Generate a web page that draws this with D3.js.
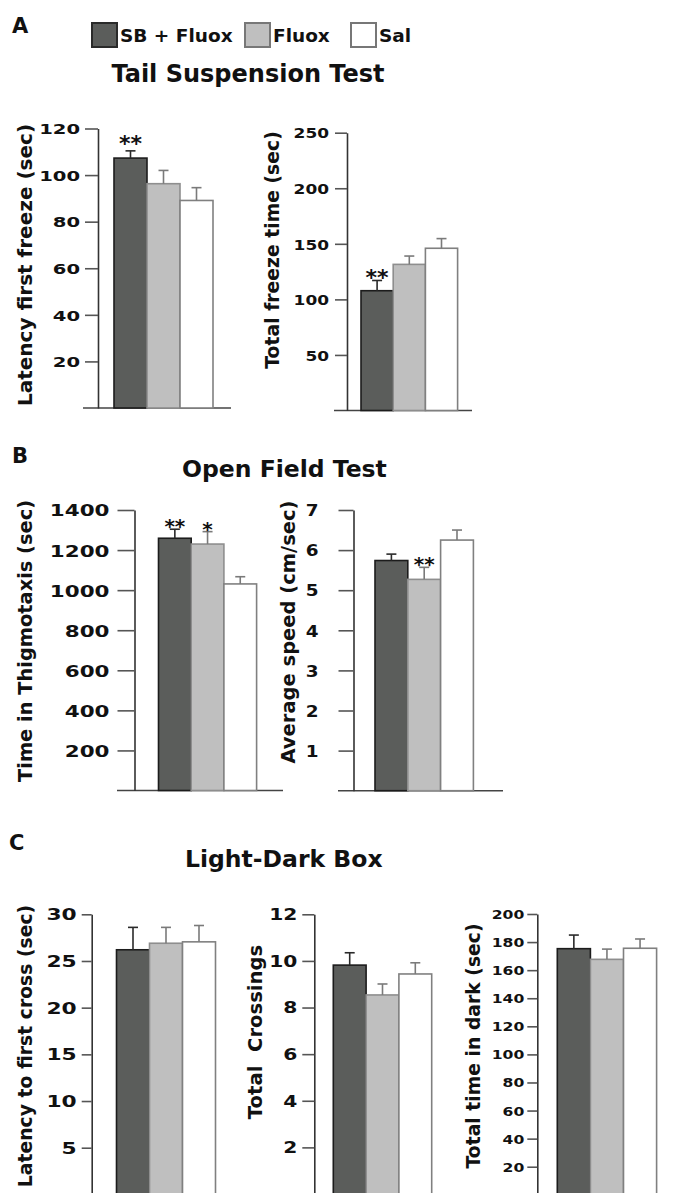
<!DOCTYPE html>
<html><head><meta charset="utf-8">
<script src="https://cdn.jsdelivr.net/npm/d3@7"></script>
<style>
html,body{margin:0;padding:0;background:#fff;}
svg{display:block;}
text{font-family:"DejaVu Sans",Verdana,sans-serif;font-weight:bold;fill:#111;}
</style></head>
<body>
<svg id="chart" width="675" height="1193"></svg>
<script>
// ---------- data ----------
const groups = ["SB + Fluox", "Fluox", "Sal"];

const tstLatency    = [107.3, 96.3, 89.1];
const tstLatencyErr = [3.1, 5.7, 5.5];
const tstLatencyStars = ["**", "", ""];
const tstLatencyTicks = [20, 40, 60, 80, 100, 120];

const tstFreeze    = [107.8, 131.5, 146.0];
const tstFreezeErr = [9.2, 7.5, 8.7];
const tstFreezeStars = ["**", "", ""];
const tstFreezeTicks = [50, 100, 150, 200, 250];

const ofThigmo    = [1259, 1230, 1031];
const ofThigmoErr = [45, 62, 36];
const ofThigmoStars = ["**", "*", ""];
const ofThigmoTicks = [200, 400, 600, 800, 1000, 1200, 1400];

const ofSpeed    = [5.74, 5.27, 6.25];
const ofSpeedErr = [0.16, 0.30, 0.25];
const ofSpeedStars = ["", "**", ""];
const ofSpeedTicks = [1, 2, 3, 4, 5, 6, 7];

const ldLatency    = [26.2, 26.9, 27.05];
const ldLatencyErr = [2.4, 1.7, 1.75];
const ldLatencyTicks = [5, 10, 15, 20, 25, 30];

const ldCross    = [9.82, 8.54, 9.44];
const ldCrossErr = [0.53, 0.47, 0.48];
const ldCrossTicks = [2, 4, 6, 8, 10, 12];

const ldDark    = [175.3, 167.7, 175.6];
const ldDarkErr = [9.7, 7.3, 6.6];
const ldDarkTicks = [20, 40, 60, 80, 100, 120, 140, 160, 180, 200];

// ---------- styles ----------
const fills   = ["#5b5d5b", "#bfbfbf", "#ffffff"];
const strokes = ["#1c1c1c", "#8e8e8e", "#808080"];
const errCol  = ["#2a2a2a", "#7a7a7a", "#7a7a7a"];

const svg = d3.select("#chart");

// ---------- headers ----------
svg.append("text").attr("x", 12).attr("y", 33).attr("font-size", 21).text("A");
svg.append("text").attr("x", 12).attr("y", 463).attr("font-size", 21).text("B");
svg.append("text").attr("x", 9).attr("y", 850).attr("font-size", 21).text("C");

svg.append("text").attr("x", 248).attr("y", 82).attr("text-anchor", "middle").attr("font-size", 24).text("Tail Suspension Test");
svg.append("text").attr("x", 182).attr("y", 477).attr("font-size", 23.5).text("Open Field Test");
svg.append("text").attr("x", 185).attr("y", 867).attr("font-size", 23.5).text("Light-Dark Box");

// legend
const legX = [92, 245, 351];
groups.forEach((g, i) => {
  svg.append("rect").attr("x", legX[i]).attr("y", 23).attr("width", 25).attr("height", 24)
    .attr("fill", fills[i]).attr("stroke", i === 0 ? "#2a2a2a" : "#777").attr("stroke-width", 2);
  svg.append("text").attr("x", legX[i] + 28).attr("y", 42).attr("font-size", 18.5).text(g);
});

// ---------- panel drawing ----------
function panel(o) {
  const g = svg.append("g");
  const x = d3.scaleBand().domain(groups).range([o.bx, o.bx + 3 * o.bw]).padding(0);
  const y = d3.scaleLinear().domain([0, o.max]).range([o.y0, o.yTop]);

  // baseline
  if (o.base) {
    g.append("line").attr("x1", o.base[0]).attr("x2", o.base[1])
      .attr("y1", o.y0).attr("y2", o.y0).attr("stroke", "#444").attr("stroke-width", 1.6);
  }
  // axis
  const ax = g.append("g").attr("transform", `translate(${o.ax},0)`)
    .call(d3.axisLeft(y).tickValues(o.ticks).tickFormat(d => String(d))
      .tickSize(o.tl).tickSizeOuter(0).tickPadding(o.tp));
  ax.select(".domain").attr("stroke", "#333").attr("stroke-width", 1.6);
  ax.selectAll(".tick line").attr("stroke", "#555").attr("stroke-width", 1.6);
  ax.selectAll(".tick text").attr("font-size", o.tf).attr("fill", "#111")
    .attr("font-family", "'DejaVu Sans',sans-serif").attr("font-weight", "bold")
    .attr("dy", "0.36em")
    .each(function() {
      const t = d3.select(this);
      const tx = +t.attr("x");
      t.attr("x", tx / o.sx).attr("transform", `scale(${o.sx},1)`);
    });

  // bars
  g.selectAll(".bar").data(o.values).join("rect")
    .attr("x", (d, i) => x(groups[i]))
    .attr("y", d => y(d))
    .attr("width", x.bandwidth())
    .attr("height", d => y(0) - y(d))
    .attr("fill", (d, i) => fills[i])
    .attr("stroke", (d, i) => strokes[i])
    .attr("stroke-width", 1.6);

  // error bars
  o.values.forEach((v, i) => {
    const cx = x(groups[i]) + x.bandwidth() / 2;
    g.append("line").attr("x1", cx).attr("x2", cx).attr("y1", y(v)).attr("y2", y(v + o.err[i]))
      .attr("stroke", errCol[i]).attr("stroke-width", 1.6);
    g.append("line").attr("x1", cx - 5).attr("x2", cx + 5).attr("y1", y(v + o.err[i])).attr("y2", y(v + o.err[i]))
      .attr("stroke", errCol[i]).attr("stroke-width", 1.6);
    if (o.stars && o.stars[i]) {
      g.append("text").attr("x", cx).attr("y", y(v + o.err[i]) + o.sdy)
        .attr("text-anchor", "middle").attr("font-size", o.sf).attr("fill", "#222").text(o.stars[i]);
    }
  });

  // y label
  g.append("text").attr("transform", `translate(${o.lx},${o.ly}) rotate(-90)`)
    .attr("text-anchor", "middle").attr("font-size", o.lf).style("white-space", "pre").text(o.label);
}

panel({values: tstLatency, err: tstLatencyErr, stars: tstLatencyStars, ticks: tstLatencyTicks, max: 120,
  ax: 98, y0: 408, yTop: 128.5, bx: 114, bw: 33, tl: 13, tp: 5, tf: 14.5, sx: 1.35,
  base: [83, 231], sf: 22, sdy: 0, label: "Latency first freeze (sec)", lx: 32, ly: 265, lf: 20});

panel({values: tstFreeze, err: tstFreezeErr, stars: tstFreezeStars, ticks: tstFreezeTicks, max: 250,
  ax: 347, y0: 410.5, yTop: 132.7, bx: 361, bw: 32.2, tl: 12, tp: 6, tf: 14.5, sx: 1.17,
  base: [334, 472], sf: 22, sdy: 5, label: "Total freeze time (sec)", lx: 279, ly: 250, lf: 18.8});

panel({values: ofThigmo, err: ofThigmoErr, stars: ofThigmoStars, ticks: ofThigmoTicks, max: 1400,
  ax: 134.5, y0: 790.5, yTop: 510, bx: 158.5, bw: 32.7, tl: 17, tp: 8, tf: 16.5, sx: 1.3,
  base: [117, 283], sf: 20, sdy: 4, label: "Time in Thigmotaxis (sec)", lx: 32, ly: 641, lf: 19.4});

panel({values: ofSpeed, err: ofSpeedErr, stars: ofSpeedStars, ticks: ofSpeedTicks, max: 7,
  ax: 353.5, y0: 790.7, yTop: 510, bx: 375, bw: 32.8, tl: 15, tp: 20, tf: 16, sx: 1.15,
  base: [338, 503], sf: 20, sdy: 4, label: "Average speed (cm/sec)", lx: 295, ly: 632, lf: 19.5});

panel({values: ldLatency, err: ldLatencyErr, ticks: ldLatencyTicks, max: 30,
  ax: 91.7, y0: 1194.4, yTop: 914.3, bx: 116.5, bw: 33, tl: 10, tp: 5, tf: 15, sx: 1.45,
  label: "Latency to first cross (sec)", lx: 32, ly: 1046, lf: 18.8});

panel({values: ldCross, err: ldCrossErr, ticks: ldCrossTicks, max: 12,
  ax: 314.3, y0: 1194, yTop: 914.3, bx: 333.3, bw: 32.8, tl: 12, tp: 5, tf: 15, sx: 1.35,
  label: "Total  Crossings", lx: 262, ly: 1032, lf: 19.6});

panel({values: ldDark, err: ldDarkErr, ticks: ldDarkTicks, max: 200,
  ax: 537.3, y0: 1194.8, yTop: 914, bx: 557.3, bw: 33.1, tl: 10, tp: 3, tf: 12.5, sx: 1.25,
  label: "Total time in dark (sec)", lx: 480, ly: 1046, lf: 18.8});
</script>
</body></html>
